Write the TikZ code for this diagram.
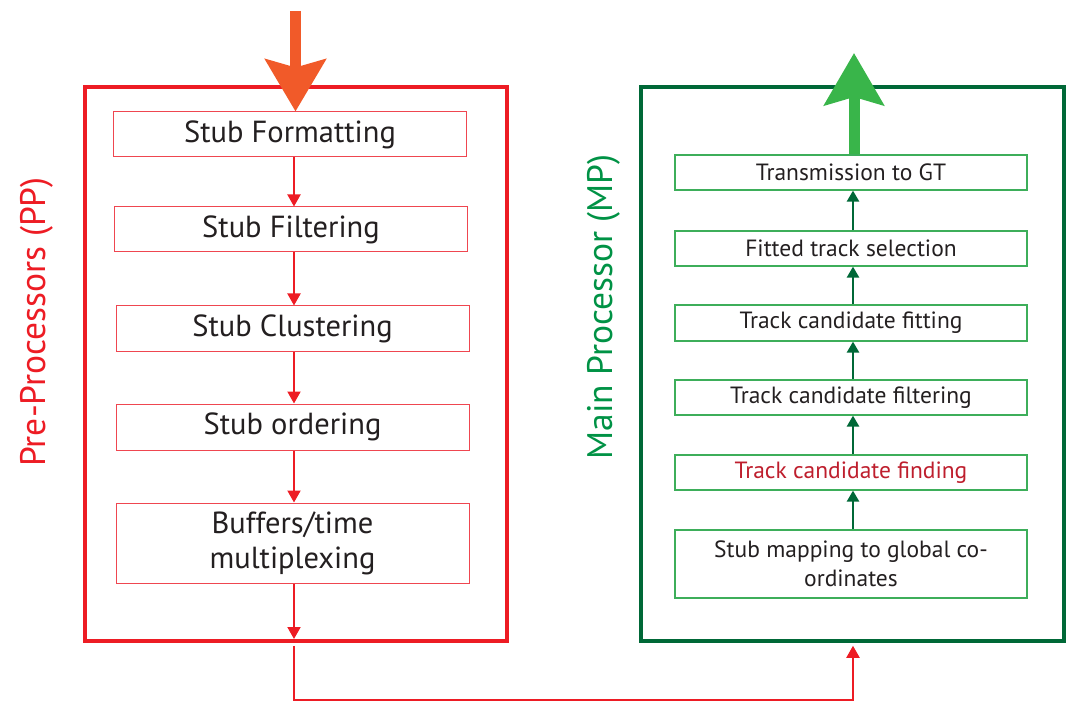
\documentclass[tikz,border=0pt]{standalone}
\usepackage{fontspec}
\setmainfont{PT Sans}
\usetikzlibrary{arrows.meta,calc}
\definecolor{ppred}{HTML}{ED1C24}
\definecolor{boxred}{HTML}{EF4650}
\definecolor{mpdark}{HTML}{006837}
\definecolor{mplab}{HTML}{009245}
\definecolor{boxgreen}{HTML}{3DAE5A}
\definecolor{txt}{HTML}{231F20}
\definecolor{orangearr}{HTML}{F15A29}
\definecolor{greenarr}{HTML}{39B54A}
\definecolor{findred}{HTML}{BE1E2D}
\begin{document}
\begin{tikzpicture}[x=1pt,y=-1pt,
  outerpp/.style={draw=ppred,line width=4.5pt,minimum width=422pt,minimum height=554pt,inner sep=0pt},
  outermp/.style={draw=mpdark,line width=4.5pt,minimum width=423pt,minimum height=554pt,inner sep=0pt},
  ppbox/.style={draw=boxred,line width=1pt,minimum width=353pt,text=txt,font=\fontsize{30.5}{35}\selectfont,align=center,inner sep=0pt},
  mpbox/.style={draw=boxgreen,line width=1.2pt,minimum width=352pt,text=txt,font=\fontsize{23.5}{29}\selectfont,align=center,inner sep=0pt},
  pparrow/.style={draw=ppred,line width=2pt,-{Triangle[width=13pt,length=12pt]}},
  mparrow/.style={draw=mpdark,line width=2.5pt,-{Triangle[width=12pt,length=11pt]}},
  biglab/.style={font=\fontsize{35.5}{38}\selectfont,rotate=90}
]
\useasboundingbox (0,0) rectangle (1082,703);
% outer boxes
\node[outerpp] (pp) at (296,364) {};
\node[outermp] (mp) at (852.5,364) {};
% labels
\node[biglab,text=ppred] (pplab) at (37,322) {Pre-Processors (PP)};
\node[biglab,text=mplab] (mplab) at (604,307) {Main Processor (MP)};
% PP inner boxes
\node[ppbox,minimum height=45pt] (sf) at (290,134.5) {Stub Formatting};
\node[ppbox,minimum height=45pt] (sfi) at (291,229.5) {Stub Filtering};
\node[ppbox,minimum height=46pt] (sc) at (292.5,329) {Stub Clustering};
\node[ppbox,minimum height=46pt] (so) at (292.5,427) {Stub ordering};
\node[ppbox,minimum height=80pt] (buf) at (292.5,543) {Buffers/time\\multiplexing};
% MP inner boxes
\node[mpbox,minimum height=35pt] (gt) at (851,172.5) {Transmission to GT};
\node[mpbox,minimum height=35pt] (fts) at (851,248.5) {Fitted track selection};
\node[mpbox,minimum height=36pt] (tcf) at (851,323) {Track candidate fitting};
\node[mpbox,minimum height=35pt] (tcfi) at (851,397.5) {Track candidate filtering};
\node[mpbox,minimum height=35pt,text=findred] (tcfd) at (851,472.5) {Track candidate finding};
\node[mpbox,minimum height=68pt] (map) at (851,564) {Stub mapping to global co-\\ordinates};
% PP arrows
\draw[pparrow] (sf.south -| 294,0) -- (sfi.north -| 294,0);
\draw[pparrow] (sfi.south -| 294,0) -- (sc.north -| 294,0);
\draw[pparrow] (sc.south -| 294,0) -- (so.north -| 294,0);
\draw[pparrow] (so.south -| 294,0) -- (buf.north -| 294,0);
\coordinate (ppin) at (294,639);
\draw[pparrow] (buf.south -| 294,0) -- (ppin);
% MP arrows
\draw[mparrow] (map.north -| 853,0) -- (tcfd.south -| 853,0);
\draw[mparrow] (tcfd.north -| 853,0) -- (tcfi.south -| 853,0);
\draw[mparrow] (tcfi.north -| 853,0) -- (tcf.south -| 853,0);
\draw[mparrow] (tcf.north -| 853,0) -- (fts.south -| 853,0);
\draw[mparrow] (fts.north -| 853,0) -- (gt.south -| 853,0);
% big input/output arrows
\coordinate (intop) at (295.5,11);
\draw[draw=orangearr,line width=11pt,-{Stealth[width=60pt,length=52pt,inset=8pt]}] (intop) -- (sf.north -| 295.5,0);
\coordinate (outtop) at (854,53);
\draw[draw=greenarr,line width=11pt,-{Stealth[width=59pt,length=52pt,inset=8pt]}] (gt.north -| 854,0) -- (outtop);
% bottom connector
\coordinate (c1) at (294,700);
\coordinate (c2) at (853,700);
\draw[draw=ppred,line width=2pt,-{Triangle[width=13pt,length=12pt]}] (pp.south -| 294,0) ++(0,2.5) -- (c1) -- (c2) -- ($(mp.south -| 853,0)+(0,2.5)$);
\end{tikzpicture}
\end{document}
